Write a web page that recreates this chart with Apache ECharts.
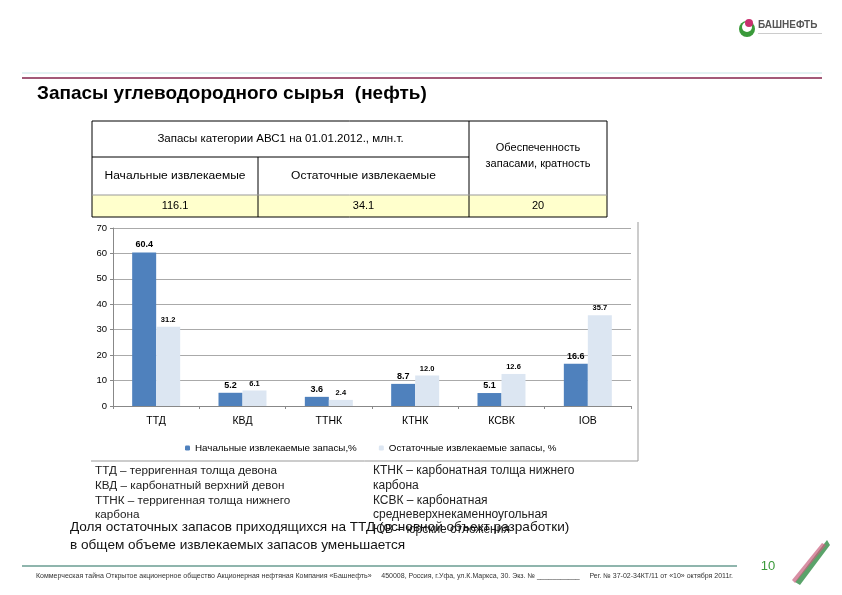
<!DOCTYPE html>
<html><head><meta charset="utf-8">
<script src="https://cdn.jsdelivr.net/npm/echarts@6/dist/echarts.min.js"></script>
<style>html,body{margin:0;padding:0;background:#fff}#c{width:842px;height:595px}</style>
</head><body><div id="c"></div>
<script>
const categories = ['ТТД', 'КВД', 'ТТНК', 'КТНК', 'КСВК', 'IOB'];
const initialValues = [60.4, 5.2, 3.6, 8.7, 5.1, 16.6];
const remainingValues = [31.2, 6.1, 2.4, 12.0, 12.6, 35.7];
const seriesNames = ['Начальные извлекаемые запасы,%', 'Остаточные извлекаемые запасы, %'];
const yTicks = [0, 10, 20, 30, 40, 50, 60, 70];
const tableHeader = 'Запасы категории АВС1 на 01.01.2012., млн.т.';
const tableCols = ['Начальные извлекаемые', 'Остаточные извлекаемые'];
const tableCol3 = ['Обеспеченность', 'запасами, кратность'];
const tableValues = ['116.1', '34.1', '20'];
const defsLeft = ['ТТД – терригенная толща девона', 'КВД – карбонатный верхний девон', 'ТТНК – терригенная толща нижнего', 'карбона'];
const defsRight = ['КТНК – карбонатная толща нижнего', 'карбона', 'КСВК – карбонатная', 'средневерхнекаменноугольная', 'ЮВ – юрские отложения'];
const noteLines = ['Доля остаточных запасов приходящихся на ТТД (основной объект разработки)', 'в общем объеме извлекаемых запасов уменьшается'];
const titleText = 'Запасы углеводородного сырья  (нефть)';
const footerText = 'Коммерческая тайна Открытое акционерное общество Акционерная нефтяная Компания «Башнефть»     450008, Россия, г.Уфа, ул.К.Маркса, 30. Экз. № ___________     Рег. № 37-02-34КТ/11 от «10» октября 2011г.';
const pageNum = '10';

const F = 'Arial, "Liberation Sans", sans-serif';
const chart = echarts.init(document.getElementById('c'), null, {renderer: 'canvas'});

const g = [];
// top lines
g.push({type:'rect', shape:{x:22,y:72,width:800,height:2}, style:{fill:'#e3f3f3'}});
g.push({type:'rect', shape:{x:22,y:77,width:800,height:2}, style:{fill:'#a35a78'}});
// logo
g.push({type:'circle', shape:{cx:747,cy:29,r:8}, style:{fill:'#3a9a3a'}});
g.push({type:'circle', shape:{cx:747,cy:27,r:5}, style:{fill:'#fff'}});
g.push({type:'circle', shape:{cx:749,cy:23,r:4}, style:{fill:'#c8306e'}});
g.push({type:'text', left:758, top:20, style:{text:'БАШНЕФТЬ', font:'bold 10px '+F, fill:'#555'}});
g.push({type:'rect', shape:{x:758,y:33,width:64,height:1}, style:{fill:'#ccc'}});
// title
g.push({type:'text', left:37, top:84, style:{text:titleText, font:'bold 19px '+F, fill:'#000'}});
// table
const tx0=92, tx1=258, tx2=469, tx3=607, ty0=121, ty1=157, ty2=195, ty3=217;
g.push({type:'rect', shape:{x:tx0,y:ty2,width:tx3-tx0,height:ty3-ty2}, style:{fill:'#ffffcc'}});
g.push({type:'rect', shape:{x:tx0,y:ty0,width:tx3-tx0,height:ty3-ty0}, style:{fill:'none',stroke:'#000',lineWidth:1}});
const L=(x1,y1,x2,y2,c,w)=>g.push({type:'line', shape:{x1,y1,x2,y2}, style:{stroke:c||'#000',lineWidth:w||1}});
L(tx0,ty1,tx2,ty1); L(tx1,ty1,tx1,ty3); L(tx2,ty0,tx2,ty3); L(tx0,ty2,tx3,ty2,'#999');
const T=(x,y,t,font,fill,align,sx)=>g.push({type:'text', x, y, scaleX:sx||1, style:{text:t, font, fill:fill||'#000', align:align||'center', verticalAlign:'middle'}});
T((tx0+tx2)/2, 139, tableHeader, '10px '+F, '#000', 'center', 1.15);
T((tx0+tx1)/2, 176, tableCols[0], '10px '+F, '#000', 'center', 1.2);
T((tx1+tx2)/2, 176, tableCols[1], '10px '+F, '#000', 'center', 1.2);
T((tx2+tx3)/2, 148, tableCol3[0], '10px '+F, '#000', 'center', 1.1);
T((tx2+tx3)/2, 164, tableCol3[1], '10px '+F, '#000', 'center', 1.1);
T((tx0+tx1)/2, 206, tableValues[0], '10px '+F, '#000', 'center', 1.1);
T((tx1+tx2)/2, 206, tableValues[1], '10px '+F, '#000', 'center', 1.1);
T((tx2+tx3)/2, 206, tableValues[2], '10px '+F, '#000', 'center', 1.1);
// chart frame (right and bottom)
L(638,222,638,461,'#999'); L(91,461,638,461,'#999');
// definitions
defsLeft.forEach((t,i)=>T(95, 471+i*14.7, t, '11.7px '+F, '#222', 'left'));
defsRight.forEach((t,i)=>T(373, 471+i*14.7, t, '12px '+F, '#222', 'left'));
noteLines.forEach((t,i)=>T(70, 527+i*18, t, '13.6px '+F, '#111', 'left'));
// footer
g.push({type:'rect', shape:{x:22,y:565,width:715,height:2}, style:{fill:'#8fb5ad'}});
T(36, 576, footerText, '7px '+F, '#333', 'left');
T(768, 566, pageNum, '13px '+F, '#3a9a3a', 'center');
g.push({type:'polygon', shape:{points:[[795,582],[827,540],[830,545],[800,585]]}, style:{fill:'#5aa36a'}});
g.push({type:'polygon', shape:{points:[[792,580],[822,543],[826,545],[795,583]]}, style:{fill:'#c8607e', opacity:0.7}});

chart.setOption({
  animation:false,
  textStyle:{fontFamily:F},
  grid:{left:113, right:211, top:228, height:178, containLabel:false},
  legend:{
    top: 438, left:180, itemWidth:5, itemHeight:5, itemGap:22,
    textStyle:{fontSize:9.8, color:'#000', fontFamily:F},
    data: seriesNames
  },
  xAxis:{
    type:'category', data:categories,
    axisLine:{lineStyle:{color:'#888'}},
    axisTick:{show:true, length:3, lineStyle:{color:'#888'}},
    axisLabel:{fontSize:10.5, color:'#000', margin:10}
  },
  yAxis:{
    type:'value', min:yTicks[0], max:yTicks[yTicks.length-1], interval:10,
    axisLine:{show:true, lineStyle:{color:'#888'}},
    axisTick:{show:true, length:3, lineStyle:{color:'#888'}},
    axisLabel:{fontSize:9.5, color:'#000', margin:6},
    splitLine:{lineStyle:{color:'#aaa'}}
  },
  series:[
    {name:seriesNames[0], type:'bar', data:initialValues, barWidth:24, barGap:'0%',
     itemStyle:{color:'#4f81bd'},
     label:{show:true, position:'top', fontSize:9, fontWeight:'bold', color:'#000', distance:3,
            formatter:p=>p.value.toFixed(1)}},
    {name:seriesNames[1], type:'bar', data:remainingValues, barWidth:24, barGap:'0%',
     itemStyle:{color:'#dce6f2'},
     label:{show:true, position:'top', fontSize:7.5, fontWeight:'bold', color:'#000', distance:3,
            formatter:p=>p.value.toFixed(1)}}
  ],
  graphic:g
});
</script></body></html>
